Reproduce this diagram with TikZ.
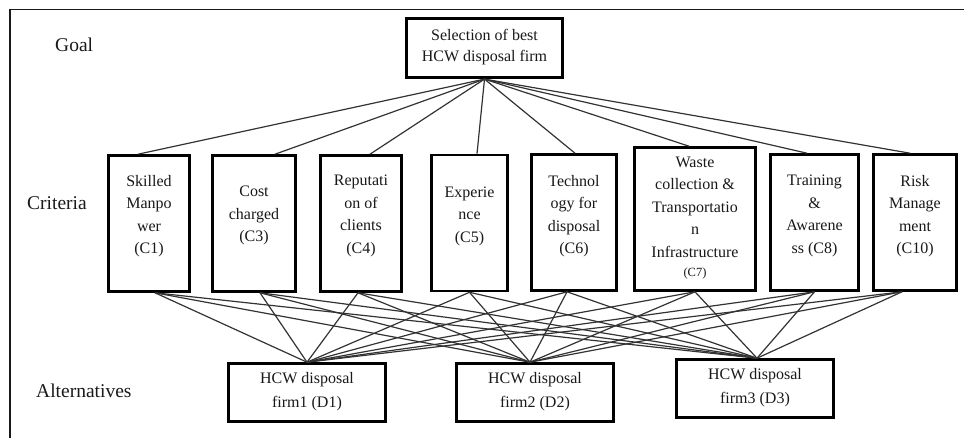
\documentclass[tikz,border=0pt]{standalone}
\usepackage{fontspec}
\setmainfont{Liberation Serif}
\begin{document}
\begin{tikzpicture}[x=1pt,y=-1pt,
  box/.style={draw=black, line width=2.6pt, fill=white, inner sep=0pt, rectangle},
  boxtext/.style={align=center, inner sep=0pt, text=black!90, font=\fontsize{16}{22.5}\selectfont},
  lvl/.style={anchor=west, inner sep=0pt, text=black!90, font=\fontsize{19.5}{22}\selectfont},
  link/.style={draw=black!80, line width=1.2pt},
  frame/.style={draw=black!90, line width=1.4pt}]
\useasboundingbox (0,0) rectangle (964,438);
% frame (top and left only)
\coordinate (ftl) at (10,9.5);
\coordinate (ftr) at (964,9.5);
\coordinate (fbl) at (10,438);
\draw[frame] (ftr) -- (ftl) -- (fbl);
% level labels
\node[lvl] (lgoal) at (55,45) {Goal};
\node[lvl] (lcrit) at (27,203) {Criteria};
\node[lvl] (lalt) at (36,391) {Alternatives};
% goal
\node[box, line width=3.2pt, minimum width=156pt, minimum height=59pt] (goal) at (484.5,48) {};
\node[boxtext, font=\fontsize{16}{21}\selectfont] (goalt) at (484.5,47.5) {Selection of best\\HCW disposal firm};
% criteria boxes
\node[box, minimum width=81pt, minimum height=136pt] (c1) at (149,223.5) {};
\node[box, minimum width=83pt, minimum height=136pt] (c3) at (254,223.5) {};
\node[box, minimum width=81pt, minimum height=136pt] (c4) at (361,223.5) {};
\node[box, minimum width=76pt, minimum height=136pt] (c5) at (469.5,223) {};
\node[box, minimum width=85pt, minimum height=136pt] (c6) at (574,222.5) {};
\node[box, minimum width=121pt, minimum height=143pt] (c7) at (695,219) {};
\node[box, minimum width=88pt, minimum height=136pt] (c8) at (814.5,222.5) {};
\node[box, minimum width=83pt, minimum height=136pt] (c10) at (915,222.5) {};
% criteria texts
\node[boxtext] (c1t) at (149,216) {Skilled\\Manpo\\wer\\(C1)};
\node[boxtext] (c3t) at (254,215.5) {Cost\\charged\\(C3)};
\node[boxtext] (c4t) at (361,216) {Reputati\\on of\\clients\\(C4)};
\node[boxtext] (c5t) at (469.5,216) {Experie\\nce\\(C5)};
\node[boxtext] (c6t) at (574,216) {Technol\\ogy for\\disposal\\(C6)};
\node[boxtext] (c7t) at (695,218) {Waste\\collection \&\\Transportatio\\n\\Infrastructure\\[-3pt]{\fontsize{12.5}{14}\selectfont (C7)}};
\node[boxtext] (c8t) at (814.5,216) {Training\\\&\\Awarene\\ss (C8)};
\node[boxtext] (c10t) at (915,216) {Risk\\Manage\\ment\\(C10)};
% alternatives
\node[box, minimum width=157pt, minimum height=58pt] (d1) at (307,392.5) {};
\node[box, minimum width=157pt, minimum height=58pt] (d2) at (535,392.5) {};
\node[box, minimum width=157pt, minimum height=58pt] (d3) at (755,388.5) {};
\node[boxtext, font=\fontsize{16}{24}\selectfont] (d1t) at (307,392) {HCW disposal\\firm1 (D1)};
\node[boxtext, font=\fontsize{16}{24}\selectfont] (d2t) at (535,392) {HCW disposal\\firm2 (D2)};
\node[boxtext, font=\fontsize{16}{24}\selectfont] (d3t) at (755,388) {HCW disposal\\firm3 (D3)};
% goal to criteria
\foreach \c/\dx in {c1/-11, c3/21, c4/9, c5/7.5, c6/1, c7/-6, c8/-7.5, c10/-5}
  \draw[link] (goal.south) -- ([xshift=\dx pt]\c.north);
% criteria to alternatives
\foreach \c/\dx in {c1/6, c3/6, c4/-3, c5/0, c6/-7, c7/0, c8/0, c10/-13}{
  \draw[link] ([xshift=\dx pt]\c.south) -- (d1.north);
  \draw[link] ([xshift=\dx pt]\c.south) -- ([xshift=-5pt]d2.north);
  \draw[link] ([xshift=\dx pt]\c.south) -- ([xshift=2pt]d3.north);
}
\end{tikzpicture}
\end{document}
